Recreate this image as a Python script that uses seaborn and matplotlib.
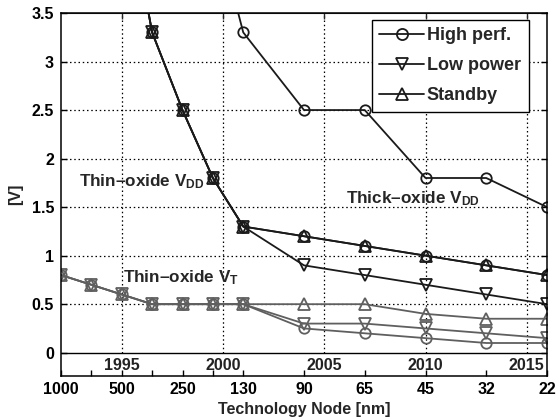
"""Supply and threshold voltage scaling vs technology node."""

import matplotlib.pyplot as plt
import pandas as pd
import seaborn as sns
from matplotlib.lines import Line2D

plt.switch_backend("Agg")

# x positions of technology nodes (in years)
node_years = [1992, 1993.5, 1995, 1996.5, 1998, 1999.5, 2001, 2004, 2007, 2010, 2013, 2016]
node_labels = ["1000", "", "500", "", "250", "", "130", "90", "65", "45", "32", "22"]
year_ticks = [1995, 2000, 2005, 2010, 2015]

# thick-oxide VDD (high performance only)
thick_years = [1999.5, 2001, 2004, 2007, 2010, 2013, 2016]
hp_thick_vdd = [4.5, 3.3, 2.5, 2.5, 1.8, 1.8, 1.5]

# thin-oxide VDD
thin_years = [1995, 1996.5, 1998, 1999.5, 2001, 2004, 2007, 2010, 2013, 2016]
hp_thin_vdd = [5.0, 3.3, 2.5, 1.8, 1.3, 1.2, 1.1, 1.0, 0.9, 0.8]
lp_thin_vdd = [5.0, 3.3, 2.5, 1.8, 1.3, 0.9, 0.8, 0.7, 0.6, 0.5]
sb_thin_vdd = [5.0, 3.3, 2.5, 1.8, 1.3, 1.2, 1.1, 1.0, 0.9, 0.8]

# thin-oxide VT
hp_vt = [0.8, 0.7, 0.6, 0.5, 0.5, 0.5, 0.5, 0.25, 0.2, 0.15, 0.1, 0.1]
lp_vt = [0.8, 0.7, 0.6, 0.5, 0.5, 0.5, 0.5, 0.3, 0.3, 0.25, 0.2, 0.15]
sb_vt = [0.8, 0.7, 0.6, 0.5, 0.5, 0.5, 0.5, 0.5, 0.5, 0.4, 0.35, 0.35]

DARK = "#1a1a1a"
GREY = "#5f5f5f"
FS = 11.5


def draw(ax, x, y, marker, color, ms):
    df = pd.DataFrame({"x": x, "y": y})
    sns.lineplot(
        data=df, x="x", y="y", ax=ax, color=color, marker=marker, markersize=ms,
        markerfacecolor="none", markeredgecolor=color, markeredgewidth=1.3,
        linewidth=1.3, sort=False, estimator=None,
    )


def main() -> None:
    sns.set_style("ticks")
    plt.rcParams["font.family"] = ["Liberation Sans", "DejaVu Sans"]
    plt.rcParams["font.weight"] = "bold"
    plt.rcParams["mathtext.fontset"] = "custom"
    plt.rcParams["mathtext.rm"] = "Liberation Sans:bold"
    plt.rcParams["mathtext.it"] = "Liberation Sans:bold"
    plt.rcParams["mathtext.bf"] = "Liberation Sans:bold"

    fig = plt.figure(figsize=(5.58, 4.2), dpi=100)
    ax = fig.add_axes([61 / 558, 1 - 376 / 420, 486 / 558, 363 / 420])

    # grid
    ax.hlines([0.5, 1, 1.5, 2, 2.5, 3], 1992, 2016, colors="black",
              linestyles=(0, (1.2, 2.2)), linewidth=0.9, zorder=0)
    ax.vlines(year_ticks, 0, 3.5, colors="black",
              linestyles=(0, (1.2, 2.2)), linewidth=0.9, zorder=0)
    ax.axhline(0, color="black", linewidth=1.0, zorder=0)

    # thin-oxide VT (grey)
    draw(ax, node_years, sb_vt, "^", GREY, 8.5)
    draw(ax, node_years, lp_vt, "v", GREY, 8.5)
    draw(ax, node_years, hp_vt, "o", GREY, 7.5)

    # thin-oxide VDD
    draw(ax, thin_years, sb_thin_vdd, "^", DARK, 8.5)
    draw(ax, thin_years, lp_thin_vdd, "v", DARK, 8.5)
    draw(ax, thin_years, hp_thin_vdd, "o", DARK, 7.5)

    # thick-oxide VDD
    draw(ax, thick_years, hp_thick_vdd, "o", DARK, 7.5)

    ax.set_xlim(1992, 2016)
    ax.set_ylim(-0.24, 3.5)
    ax.set_yticks([0, 0.5, 1, 1.5, 2, 2.5, 3, 3.5])
    ax.set_yticklabels(["0", "0.5", "1", "1.5", "2", "2.5", "3", "3.5"])
    ax.set_xticks(node_years)
    ax.set_xticklabels(node_labels)
    ax.tick_params(axis="both", direction="in", length=4, width=1,
                   labelsize=FS, colors="black", right=True)
    ax.tick_params(axis="x", pad=4)
    ax.tick_params(axis="y", pad=5)
    for lab in ax.get_xticklabels() + ax.get_yticklabels():
        lab.set_fontweight("bold")

    top = ax.secondary_xaxis("top")
    top.set_xticks(year_ticks)
    top.set_xticklabels([])
    top.tick_params(direction="in", length=4, width=1)

    for spine in ax.spines.values():
        spine.set_visible(True)
        spine.set_linewidth(1.1)
        spine.set_color("black")

    for yr in year_ticks:
        ax.text(yr, -0.135, str(yr), ha="center", va="center",
                fontsize=FS, fontweight="bold", color="#222222")

    ax.set_xlabel("Technology Node [nm]", fontsize=FS, fontweight="bold", labelpad=4)
    ax.set_ylabel("[V]", fontsize=FS, fontweight="bold", labelpad=6)

    ax.text(1992.9, 1.76, "Thin\u2013oxide V$_{DD}$", fontsize=12.3,
            fontweight="bold", va="center", ha="left")
    ax.text(2006.05, 1.59, "Thick\u2013oxide V$_{DD}$", fontsize=12.3,
            fontweight="bold", va="center", ha="left")
    ax.text(1995.05, 0.77, "Thin\u2013oxide V$_{T}$", fontsize=12.3,
            fontweight="bold", va="center", ha="left")

    handles = [
        Line2D([], [], color=DARK, marker="o", mfc="none", ms=8, lw=1.3, mew=1.3),
        Line2D([], [], color=DARK, marker="v", mfc="none", ms=9, lw=1.3, mew=1.3),
        Line2D([], [], color=DARK, marker="^", mfc="none", ms=9, lw=1.3, mew=1.3),
    ]
    leg = ax.legend(handles, ["High perf.", "Low power", "Standby"],
                    loc="upper right", bbox_to_anchor=(0.962, 0.981),
                    borderaxespad=0, fancybox=False, framealpha=1,
                    edgecolor="black", handlelength=2.5,
                    handletextpad=0.15, labelspacing=0.72, borderpad=0.42,
                    prop={"weight": "bold", "size": 13})
    leg.get_frame().set_linewidth(1.0)

    fig.savefig("out.png", dpi=100)
    plt.close(fig)


if __name__ == "__main__":
    main()
